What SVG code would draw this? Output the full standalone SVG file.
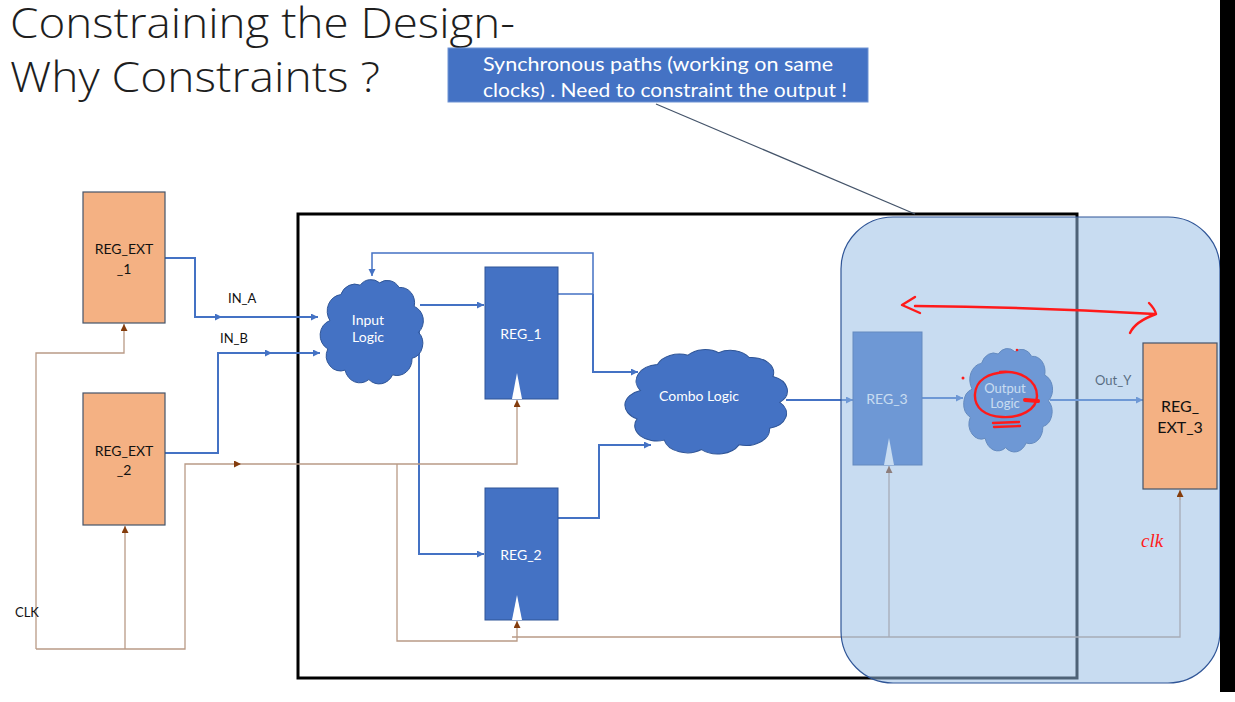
<svg xmlns="http://www.w3.org/2000/svg" xmlns:xlink="http://www.w3.org/1999/xlink" width="1235" height="702" viewBox="0 0 1235 702">
  <style>
    .title { font-family: "Open Sans", "Liberation Sans", sans-serif; font-weight: 300; font-size: 42px; fill: #1e1e1e; }
    .note { font-family: "Lato", "Liberation Sans", sans-serif; font-size: 19px; fill: #ffffff; }
    .ext { fill: #F4B183; stroke: #44546A; stroke-width: 1.2; }
    .reg { fill: #4472C4; stroke: #2F5597; stroke-width: 1; }
    .cloud { fill: #4472C4; stroke: #2F5597; }
    .lbl { font-family: "Lato", "Liberation Sans", sans-serif; font-size: 14px; text-anchor: middle; }
    .dark { fill: #111111; }
    .light { fill: #ffffff; }
    .sig { font-family: "Lato", "Liberation Sans", sans-serif; font-size: 13px; fill: #111111; }
    .wire { fill: none; stroke: #4472C4; stroke-width: 2; }
    .wire-thin { fill: none; stroke: #4472C4; stroke-width: 1.5; }
    .clk { fill: none; stroke: #B99A86; stroke-width: 1.3; }
    .notch { fill: #ffffff; }
    .ink { fill: none; stroke: #FF1A1A; stroke-width: 2.4; stroke-linecap: round; stroke-linejoin: round; }
  </style>
  <defs>
    <marker id="ab" markerUnits="userSpaceOnUse" markerWidth="8" markerHeight="8" refX="7" refY="3.5" orient="auto">
      <path d="M0,0 L7,3.5 L0,7 z" fill="#4472C4"/>
    </marker>
    <marker id="ar" markerUnits="userSpaceOnUse" markerWidth="8" markerHeight="8" refX="7" refY="3.5" orient="auto">
      <path d="M0,0 L7,3.5 L0,7 z" fill="#843C0C"/>
    </marker>
    <symbol id="cloud" viewBox="0 0 100 100" preserveAspectRatio="none" overflow="visible">
      <path vector-effect="non-scaling-stroke" d="M12,42 A14,14 0 0 1 22,20 A14,14 0 0 1 40,12 A13,13 0 0 1 58,10 A13,13 0 0 1 76,14 A13,13 0 0 1 90,30 A13,13 0 0 1 94,52 A13,13 0 0 1 88,74 A14,14 0 0 1 70,88 A14,14 0 0 1 48,92 A14,14 0 0 1 26,84 A13,13 0 0 1 10,66 A13,13 0 0 1 12,42 Z"/>
    </symbol>
  </defs>

  <rect x="0" y="0" width="1235" height="702" fill="#ffffff"/>

  <!-- heading -->
  <g id="title">
    <text class="title" x="10" y="38" textLength="505" lengthAdjust="spacingAndGlyphs">Constraining the Design-</text>
    <text class="title" x="10" y="92" textLength="370" lengthAdjust="spacingAndGlyphs">Why Constraints ?</text>
  </g>

  <!-- callout -->
  <g id="callout">
    <rect x="448" y="48" width="420" height="54" fill="#4472C4" stroke="#6F93D3" stroke-width="1"/>
    <text class="note" x="483" y="71" textLength="350" lengthAdjust="spacingAndGlyphs">Synchronous paths (working on same</text>
    <text class="note" x="483" y="97" textLength="364" lengthAdjust="spacingAndGlyphs">clocks) . Need to constraint  the output !</text>
  </g>

  <!-- design boundary -->
  <g id="design-boundary">
    <rect x="298" y="214" width="779" height="464" fill="none" stroke="#000000" stroke-width="3"/>
  </g>

  <!-- wires -->
  <g id="connectors">
    <!-- data -->
    <path class="wire" d="M165,258 H195 V317 H222" marker-end="url(#ab)"/>
    <path class="wire" d="M222,317 H318" marker-end="url(#ab)"/>
    <path class="wire" d="M165,453 H218 V353 H272" marker-end="url(#ab)"/>
    <path class="wire" d="M272,353 H320" marker-end="url(#ab)"/>
    <path class="wire" d="M420,305 H484" marker-end="url(#ab)"/>
    <path class="wire" d="M419,330 V554 H484" marker-end="url(#ab)"/>
    <path class="wire-thin" d="M558,294 H593 V253 H372 V276" marker-end="url(#ab)"/>
    <path class="wire" d="M593,294 V372 H638" marker-end="url(#ab)"/>
    <path class="wire" d="M558,518 H599 V445 H651" marker-end="url(#ab)"/>
    <path class="wire" d="M786,400 H853" marker-end="url(#ab)"/>
    <path class="wire" d="M922,398 H963" marker-end="url(#ab)"/>
    <path class="wire" d="M1050,400 H1143" marker-end="url(#ab)"/>
    <!-- clock -->
    <path class="clk" d="M36,649 V353 H124 V324" marker-end="url(#ar)"/>
    <path class="clk" d="M36,649 H185 V464 H241" marker-end="url(#ar)"/>
    <path class="clk" d="M241,464 H517 V400" marker-end="url(#ar)"/>
    <path class="clk" d="M125,649 V526" marker-end="url(#ar)"/>
    <path class="clk" d="M397,464 V641 H517 V621" marker-end="url(#ar)"/>
    <path class="clk" d="M512,637 H1180 V500"/>
    <path class="clk" d="M889,637 V466" marker-end="url(#ar)"/>
    <!-- callout leader -->
    <line x1="656" y1="104" x2="915" y2="214" stroke="#44546A" stroke-width="1.2"/>
  </g>

  <!-- signal names -->
  <g id="signal-labels">
    <text class="sig" x="228" y="303">IN_A</text>
    <text class="sig" x="220" y="343">IN_B</text>
    <text class="sig" x="15" y="617">CLK</text>
    <text class="sig" x="1095" y="385">Out_Y</text>
  </g>

  <g id="reg-ext-1">
    <rect class="ext" x="83" y="192" width="82" height="131"/>
    <text class="lbl dark" x="124" y="254">REG_EXT</text>
    <text class="lbl dark" x="124" y="274">_1</text>
  </g>

  <g id="reg-ext-2">
    <rect class="ext" x="83" y="393" width="82" height="132"/>
    <text class="lbl dark" x="124" y="456">REG_EXT</text>
    <text class="lbl dark" x="124" y="475">_2</text>
  </g>

  <g id="input-logic">
    <use href="#cloud" class="cloud" x="317" y="271" width="108" height="118"/>
    <text class="lbl light" x="368" y="325">Input</text>
    <text class="lbl light" x="368" y="342">Logic</text>
  </g>

  <g id="reg-1">
    <rect class="reg" x="485" y="267" width="73" height="132"/>
    <polygon class="notch" points="512,399 517,373 522,399"/>
    <text class="lbl light" x="521" y="339">REG_1</text>
  </g>

  <g id="reg-2">
    <rect class="reg" x="485" y="488" width="73" height="132"/>
    <polygon class="notch" points="512,620 517,595 522,620"/>
    <text class="lbl light" x="521" y="560">REG_2</text>
  </g>

  <g id="combo-logic">
    <use href="#cloud" class="cloud" x="620" y="341" width="170" height="118"/>
    <text class="lbl light" x="699" y="401">Combo Logic</text>
  </g>

  <g id="reg-3">
    <rect class="reg" x="853" y="332" width="69" height="133"/>
    <polygon class="notch" points="884,465 889,438 894,465"/>
    <text class="lbl light" x="887" y="404">REG_3</text>
  </g>

  <g id="output-logic">
    <use href="#cloud" class="cloud" x="961" y="340" width="93" height="117"/>
    <text class="lbl light" x="1005" y="393" style="font-size:13px">Output</text>
    <text class="lbl light" x="1005" y="408" style="font-size:13px">Logic</text>
  </g>

  <!-- highlighted output region -->
  <g id="output-region">
    <rect x="841" y="217" width="379" height="466" rx="52" ry="52" fill="#95BCE4" fill-opacity="0.52" stroke="#2F5597" stroke-width="1.2"/>
  </g>

  <g id="reg-ext-3">
    <rect class="ext" x="1143" y="343" width="74" height="146"/>
    <text class="lbl dark" x="1180" y="412" style="font-size:16px">REG_</text>
    <text class="lbl dark" x="1180" y="433" style="font-size:16px">EXT_3</text>
  </g>

  <g id="connectors-top">
    <path class="clk" d="M1180,500 V490" marker-end="url(#ar)"/>
  </g>

  <!-- pen annotations -->
  <g id="annotations">
    <path class="ink" d="M915,306 Q1030,307 1155,314"/>
    <path class="ink" d="M915,297 L902,305 L920,313"/>
    <path class="ink" d="M1149,303 C1152,306 1155,310 1156,314 C1145,318 1134,324 1130,333"/>
    <path class="ink" d="M1000,372 C1020,370 1037,380 1037,396 C1037,410 1020,418 1002,417 C985,416 974,408 975,394 C976,380 988,373 1006,372"/>
    <path class="ink" d="M1025,400 L1038,401" style="stroke-width:4"/>
    <path class="ink" d="M993,423 L1019,422"/>
    <path class="ink" d="M994,427 L1020,426"/>
    <circle cx="963" cy="378" r="1.5" fill="#FF1A1A"/>
    <circle cx="1017" cy="350" r="1.3" fill="#FF1A1A"/>
    <text x="1141" y="547" font-family="Liberation Serif, serif" font-style="italic" font-size="19" fill="#FF1A1A">clk</text>
  </g>

  <!-- dark frame edge -->
  <rect x="1220" y="0" width="15" height="692" fill="#000000"/>
</svg>
